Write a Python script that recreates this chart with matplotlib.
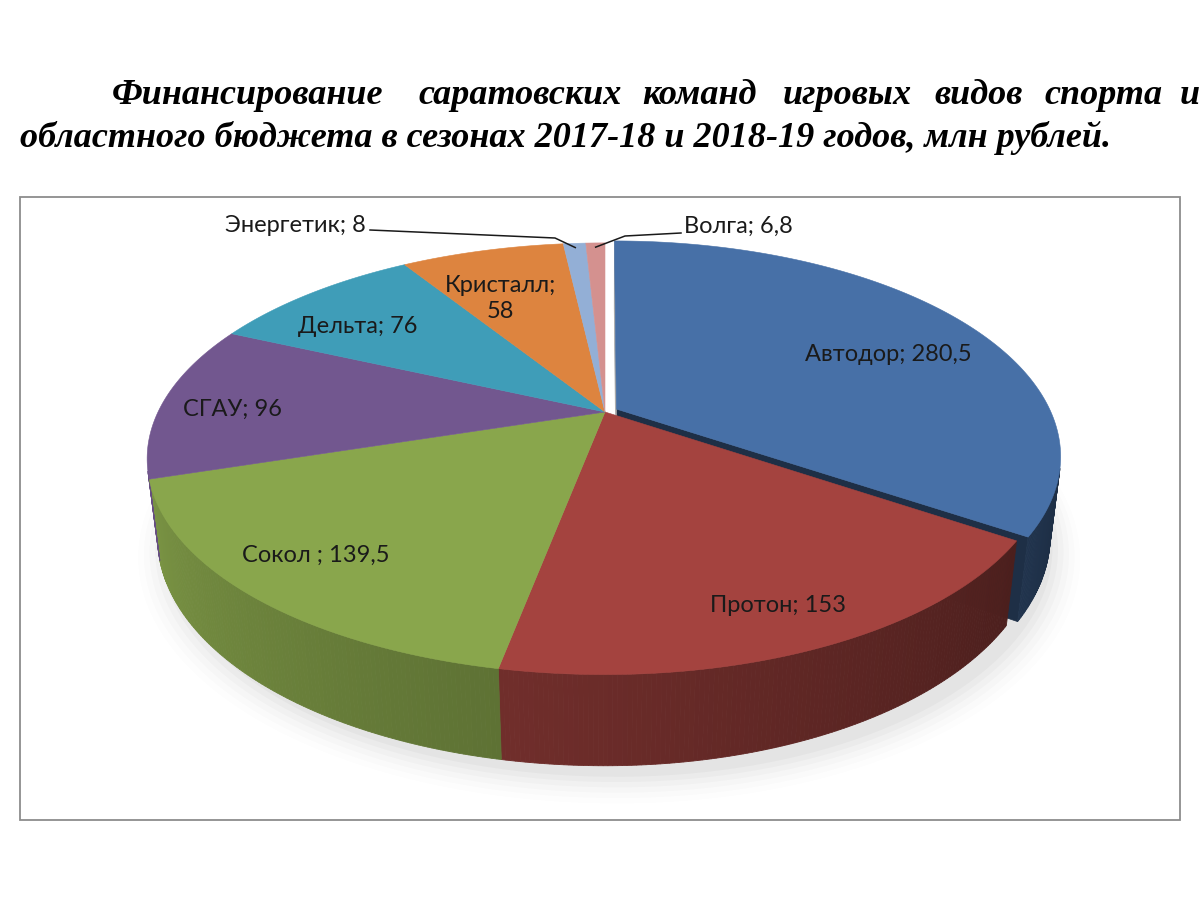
import numpy as np
import matplotlib.pyplot as plt
from matplotlib.patches import Polygon, Rectangle

# data
teams = ["Автодор", "Протон", "Сокол ", "СГАУ", "Дельта", "Кристалл", "Энергетик", "Волга"]
funding = [280.5, 153, 139.5, 96, 76, 58, 8, 6.8]
value_text = ["280,5", "153", "139,5", "96", "76", "58", "8", "6,8"]

title_line1 = ["Финансирование", "саратовских", "команд", "игровых", "видов", "спорта", "и"]
title_line2 = "областного бюджета в сезонах 2017-18 и 2018-19 годов, млн рублей."

# styling
top_colors = ["#4770A7", "#A4433F", "#89A64C", "#72578F", "#3F9DB8", "#DD843F", "#93AFD6", "#D4918F"]
explode = [0.03, 0, 0, 0, 0, 0, 0, 0]
label_r = [0.72, 0.82, 0.83, 0.85, 0.80, 0.72, None, None]
label_shift = [(17, 10), (8, 8), (-5, -4), (3, 8), (-6, 12), (-12, 8)]
word_x = [112, 418, 642, 783, 934, 1044, 1180]

ELEV = np.radians(27.4)
FOCAL = 4.1
SCALE = 447
CX, CY = 605, 412
DEPTH = 0.2
RIGHT_SQUEEZE = 0.972


def project(x, z, y=0.0):
    yp = y * np.cos(ELEV) + z * np.sin(ELEV)
    zp = -y * np.sin(ELEV) + z * np.cos(ELEV)
    k = FOCAL / (FOCAL + zp)
    dx = SCALE * x * k
    if dx > 0:
        dx *= RIGHT_SQUEEZE
    return CX + dx, CY - SCALE * yp * k


def shade(hexcol, f):
    c = np.array([int(hexcol[i:i + 2], 16) for i in (1, 3, 5)]) / 255.0
    return tuple(np.clip(c * f, 0, 1))


def side_factor(theta):
    return float(np.clip(0.95 - 0.5 * (theta + 180) / 150, 0.42, 1.0))


# slice angles, clockwise from 12 o'clock
total = sum(funding)
spans = [v / total * 360 for v in funding]
starts = 90 - np.concatenate([[0], np.cumsum(spans)[:-1]])
ends = starts - np.array(spans)

fig = plt.figure(figsize=(12, 9), dpi=100)
ax = fig.add_axes([0, 0, 1, 1])
ax.set_xlim(0, 1200)
ax.set_ylim(900, 0)
ax.axis("off")

ax.add_patch(Rectangle((20, 197), 1160, 623, fill=False, edgecolor="#8C8C8C", lw=1.3))

# soft shadow below the pie
for i, a in enumerate(np.linspace(0.05, 0.012, 6)):
    t = np.radians(np.linspace(-190, 20, 120))
    grow = 1.0 + 0.012 * i
    pts = [project(np.cos(tt) * grow + 0.015, np.sin(tt) * grow - 0.02, -DEPTH) for tt in t]
    pts = [(px + 4, py + 4 + i) for px, py in pts]
    ax.add_patch(Polygon(pts, closed=True, facecolor="#7F7F7F", edgecolor="none", alpha=a, zorder=1))


def draw_slice(i, z0):
    a0, a1 = starts[i], ends[i]
    mid = np.radians((a0 + a1) / 2)
    ox, oz = explode[i] * np.cos(mid), explode[i] * np.sin(mid)
    col = top_colors[i]
    # radial cut faces of an exploded slice
    if explode[i] > 0:
        for ang, fcol in ((a1, shade(col, 0.42)), (a0, "#A6A6A6")):
            r = np.radians(ang)
            quad = [project(ox, oz), project(ox + np.cos(r), oz + np.sin(r)),
                    project(ox + np.cos(r), oz + np.sin(r), -DEPTH), project(ox, oz, -DEPTH)]
            ax.add_patch(Polygon(quad, closed=True, facecolor=fcol, edgecolor=fcol, lw=0.5, zorder=z0))
    # outer wall, drawn in thin strips for the shading
    th = np.linspace(a0, a1, max(int(abs(a0 - a1) * 2), 2))
    for t0, t1 in zip(th[:-1], th[1:]):
        tm = (t0 + t1) / 2
        if np.sin(np.radians(tm)) > -0.27:
            continue
        r0, r1 = np.radians(t0), np.radians(t1)
        quad = [project(ox + np.cos(r0), oz + np.sin(r0)), project(ox + np.cos(r1), oz + np.sin(r1)),
                project(ox + np.cos(r1), oz + np.sin(r1), -DEPTH), project(ox + np.cos(r0), oz + np.sin(r0), -DEPTH)]
        fc = shade(col, side_factor(tm))
        ax.add_patch(Polygon(quad, closed=True, facecolor=fc, edgecolor=fc, lw=0.6, zorder=z0 + 1))
    # top face
    t = np.radians(np.linspace(a0, a1, 200))
    pts = [project(ox, oz)] + [project(ox + np.cos(tt), oz + np.sin(tt)) for tt in t]
    ax.add_patch(Polygon(pts, closed=True, facecolor=col, edgecolor=col, lw=0.4, zorder=z0 + 2))
    return ox, oz, mid


# exploded slice first (it sits behind), then the rest
order = [i for i in range(len(funding)) if explode[i] > 0] + [i for i in range(len(funding)) if explode[i] == 0]
geo = {}
for n, i in enumerate(order):
    geo[i] = draw_slice(i, 2 + n * 3 if explode[i] > 0 else 10)

label_font = dict(family=["Lato", "DejaVu Sans"], fontsize=17, color="#1A1A1A", zorder=50)

for i, name in enumerate(teams):
    ox, oz, mid = geo[i]
    if label_r[i] is not None:
        lx, ly = project(ox + label_r[i] * np.cos(mid), oz + label_r[i] * np.sin(mid))
        lx += label_shift[i][0]
        ly += label_shift[i][1]
        txt = f"{name};\n{value_text[i]}" if name == "Кристалл" else f"{name}; {value_text[i]}"
        ax.text(lx, ly, txt, ha="center", va="center", linespacing=1.3, **label_font)

# outside labels with leader lines for the thin slices
ex, ey = project(0.97 * np.cos(geo[6][2]), 0.97 * np.sin(geo[6][2]))
ax.plot([370, 555, ex], [230, 238, ey], color="#1A1A1A", lw=1.1, zorder=49)
ax.text(366, 226, f"{teams[6]}; {value_text[6]}", ha="right", va="center", **label_font)
vx, vy = project(0.97 * np.cos(geo[7][2]), 0.97 * np.sin(geo[7][2]))
ax.plot([681, 625, vx], [233, 236, vy], color="#1A1A1A", lw=1.1, zorder=49)
ax.text(684, 226, f"{teams[7]}; {value_text[7]}", ha="left", va="center", **label_font)

# title
title_font = dict(family=["Liberation Serif", "DejaVu Serif"], fontsize=26, fontweight="bold",
                  fontstyle="italic", color="black")
for w, x in zip(title_line1, word_x):
    ax.text(x, 104, w, ha="left", va="baseline", **title_font)
ax.text(20, 147, title_line2, ha="left", va="baseline", **title_font)

fig.savefig("out.png", dpi=100, facecolor="white")
